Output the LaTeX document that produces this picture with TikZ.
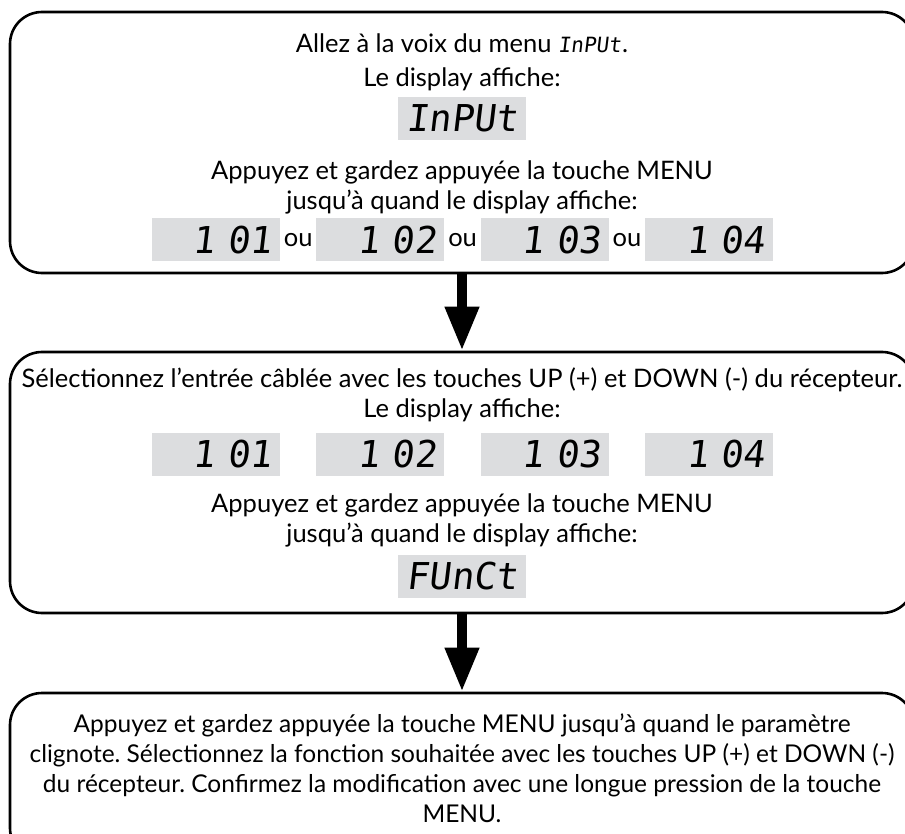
\documentclass[tikz,border=0pt]{standalone}
\usepackage{fontspec}
\setmainfont{Lato}
\newfontfamily\lcdfont[FakeSlant=0.12]{DejaVu Sans Mono}
\usetikzlibrary{positioning,arrows.meta,calc}
\definecolor{lcdgray}{RGB}{220,221,223}
\tikzset{
  panel/.style={rectangle, rounded corners=32pt, draw=black, line width=2.6pt, minimum width=904pt, inner sep=0pt},
  txt/.style={align=center, font=\fontsize{25.5}{30}\selectfont},
  ortxt/.style={font=\fontsize{25.5}{25.5}\selectfont},
  lcd/.style={fill=lcdgray, minimum width=128pt, minimum height=43pt, inner sep=0pt, text width=112pt, align=right, font=\lcdfont\fontsize{37}{37}\selectfont},
  connect/.style={-{Triangle[width=32pt,length=44pt]}, line width=10pt}
}
\newcommand{\lcdsmall}[1]{{\lcdfont\fontsize{21}{21}\selectfont #1}}
\frenchspacing

\begin{document}
\begin{tikzpicture}[x=1pt,y=-1pt]
  \path[use as bounding box, clip] (0,0) rectangle (905,834);

  % panels
  \node[panel, minimum height=261pt] (input) at (462,142.5) {};
  \node[panel, minimum height=261pt] (select) at (462,482.5) {};
  \node[panel, minimum height=167pt] (confirm) at (462,776.5) {};

  % first panel
  \node[txt] (menu) at (462,62) {Allez à la voix du menu \lcdsmall{InPUt}\kern1pt.\\[4pt]Le display affiche:};
  \node[lcd] (inp) at (462,118.5) {InPUt};
  \node[txt] (hold) at (462,187) {Appuyez et gardez appuyée la touche MENU\\jusqu’à quand le display affiche:};
  \node[lcd] (a1) at (216,240) {1 01};
  \node[lcd, right=36pt of a1] (a2) {1 02};
  \node[lcd, right=36pt of a2] (a3) {1 03};
  \node[lcd, right=36pt of a3] (a4) {1 04};
  \node[ortxt] (ou1) at ($(a1)!.5!(a2)$) {ou};
  \node[ortxt] (ou2) at ($(a2)!.5!(a3)$) {ou};
  \node[ortxt] (ou3) at ($(a3)!.5!(a4)$) {ou};

  % second panel
  \node[txt] (chan) at (462,395) {Sélectionnez l’entrée câblée avec les touches UP (+) et DOWN (-) du récepteur.\\Le display affiche:};
  \node[lcd] (b1) at (216,454.5) {1 01};
  \node[lcd, right=36pt of b1] (b2) {1 02};
  \node[lcd, right=36pt of b2] (b3) {1 03};
  \node[lcd, right=36pt of b3] (b4) {1 04};
  \node[txt] (hold2) at (462,520) {Appuyez et gardez appuyée la touche MENU\\jusqu’à quand le display affiche:};
  \node[lcd] (func) at (462,576) {FUnCt};

  % third panel
  \node[txt, font=\fontsize{24.5}{30}\selectfont] (conf) at (462,768.5) {Appuyez et gardez appuyée la touche MENU jusqu’à quand le paramètre\\clignote. Sélectionnez la fonction souhaitée avec les touches UP (+) et DOWN (-)\\du récepteur. Confirmez la modification avec une longue pression de la touche\\MENU.};

  \draw[connect] (input) -- (select);
  \draw[connect] (select) -- (confirm);
\end{tikzpicture}
\end{document}
